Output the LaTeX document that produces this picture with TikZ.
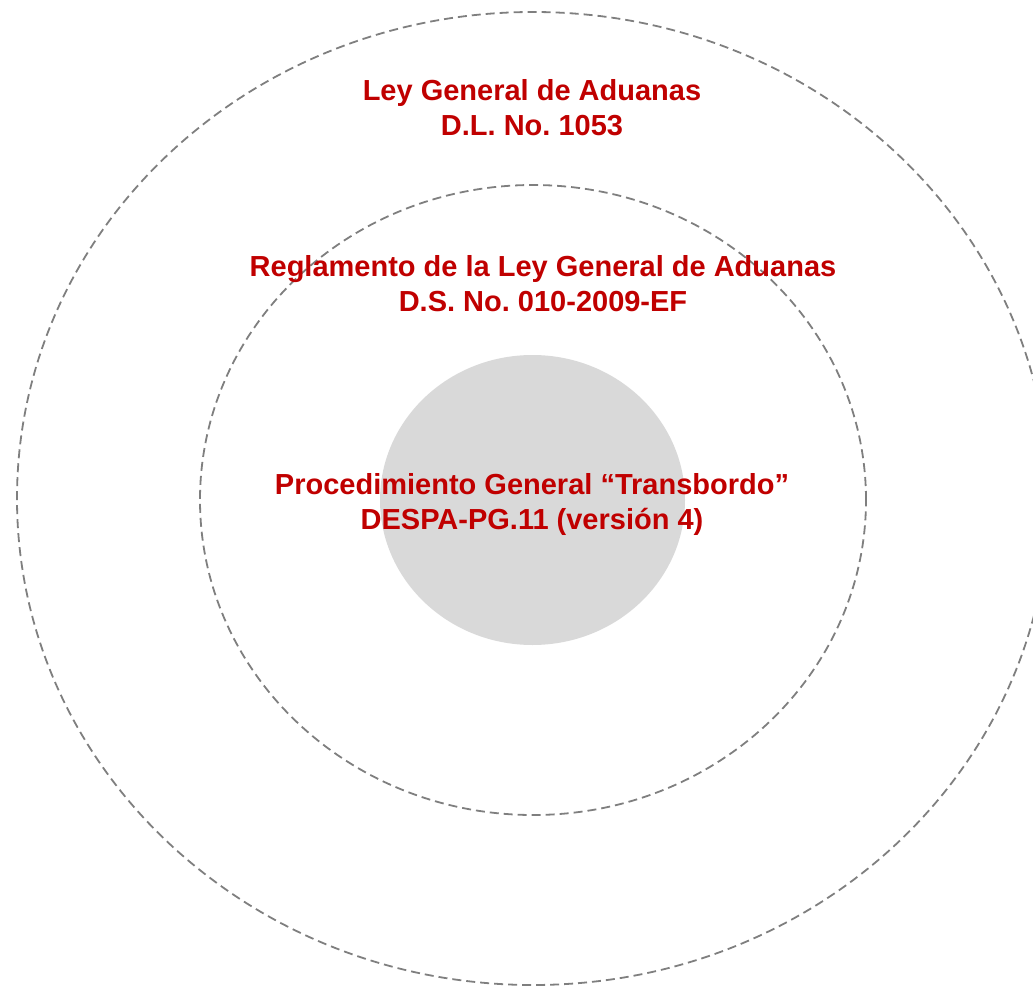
\documentclass[tikz,border=0pt]{standalone}
\usepackage{fontspec}
\setmainfont{Liberation Sans}
\frenchspacing
\usetikzlibrary{
  shapes.geometric,  % Shape "ellipse"
}
\definecolor{lawred}{HTML}{C00000}
\definecolor{ringgray}{HTML}{7F7F7F}
\definecolor{coregray}{HTML}{D9D9D9}
\tikzset{
  x=1pt,
  y=-1pt,
  my ring/.style={
    ellipse,
    draw=ringgray,
    line width=1.8pt,
    dash pattern=on 9pt off 5pt,
    inner sep=0pt
  },
  my core/.style={
    ellipse,
    fill=coregray,
    draw=none,
    inner sep=0pt
  },
  my label/.style={
    text=lawred,
    font=\fontsize{29}{35}\selectfont\bfseries,
    align=center,
    inner sep=0pt,
    anchor=base  % base of the last line
  }
}

\begin{document}
\begin{tikzpicture}
\useasboundingbox (0,0) rectangle (1033,987);
\clip (0,0) rectangle (1033,987);
% Rings, outer to inner
\node[my ring,minimum width=1032pt,minimum height=973pt] (ley)           at (533,498.5) {};
\node[my ring,minimum width=666pt,minimum height=630pt]  (reglamento)    at (533,500)   {};
\node[my core,minimum width=305pt,minimum height=290pt]  (procedimiento) at (532.5,500) {};
% Labels
\node[my label] (leytxt)  at (532,136)
  {Ley General de Aduanas\\D.L. No. 1053};
\node[my label] (regltxt) at (543,311)
  {Reglamento de la Ley General de Aduanas\\D.S. No. 010-2009-EF};
\node[my label] (proctxt) at (532,529)
  {Procedimiento General “Transbordo”\\DESPA-PG.11 (versión 4)};
\end{tikzpicture}
\end{document}
